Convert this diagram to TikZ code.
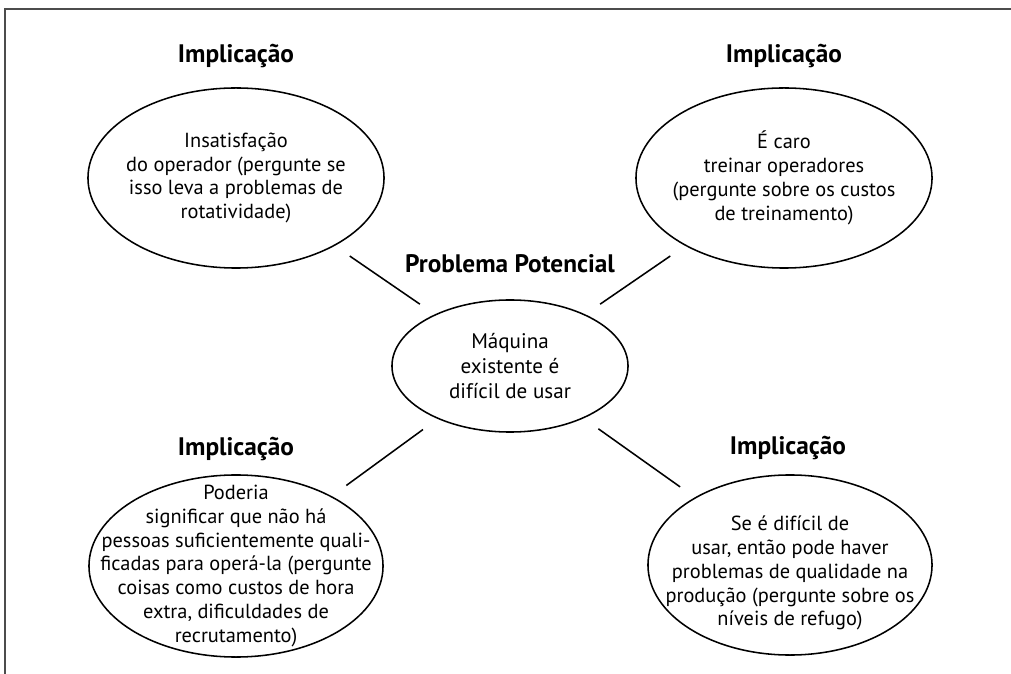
\documentclass[tikz,border=0pt]{standalone}
\usepackage{fontspec}
\setmainfont{PT Sans}
\usetikzlibrary{shapes.geometric}

\begin{document}
\begin{tikzpicture}[x=0.025cm, y=-0.025cm,
    bubble/.style={draw, ellipse, line width=1.1pt, inner sep=0pt},
    bubbletext/.style={align=center, inner sep=0pt,
      font=\fontsize{14.5}{17}\selectfont},
    heading/.style={anchor=base, inner sep=0pt,
      font=\fontsize{18}{20}\selectfont\bfseries},
    link/.style={line width=1.1pt, shorten <=0.45cm, shorten >=0.45cm}]
  \useasboundingbox (0,0) rectangle (1011,674);

  %% frame
  \draw[line width=1.4pt, black!70] (5,674) -- (5,9) -- (1011,9);

  %% the potential problem
  \node[heading] (probhead) at (510,273) {Problema Potencial};
  \node[bubble, minimum width=5.9cm, minimum height=3.3cm] (prob) at (510,366) {};
  \node[bubbletext, font=\fontsize{15}{17.8}\selectfont] (probtxt) at (prob)
    {Máquina\\existente é\\difícil de usar};

  %% the four implications
  \node[heading] (tlhead) at (236,63) {Implicação};
  \node[bubble, minimum width=7.4cm, minimum height=4.5cm] (tl) at (236,178) {};
  \node[bubbletext] (tltxt) at (tl)
    {Insatisfação\\do operador (pergunte se\\isso leva a problemas de\\rotatividade)};

  \node[heading] (trhead) at (784,63) {Implicação};
  \node[bubble, minimum width=7.4cm, minimum height=4.5cm] (tr) at (784,178) {};
  \node[bubbletext] (trtxt) at (tr)
    {É caro\\treinar operadores\\(pergunte sobre os custos\\de treinamento)};

  \node[heading] (blhead) at (236,455) {Implicação};
  \node[bubble, minimum width=7.35cm, minimum height=4.55cm] (bl) at (236,566) {};
  \node[bubbletext] (bltxt) at (bl)
    {Poderia\\significar que não há\\pessoas suficientemente quali-\\ficadas para operá-la (pergunte\\coisas como custos de hora\\extra, dificuldades de\\recrutamento)};

  \node[heading] (brhead) at (788,454) {Implicação};
  \node[bubble, minimum width=7.1cm, minimum height=4.5cm] (br) at (790,565) {};
  \node[bubbletext] (brtxt) at ([yshift=-0.2cm]br)
    {Se é difícil de\\usar, então pode haver\\problemas de qualidade na\\produção (pergunte sobre os\\níveis de refugo)};

  %% links
  \draw[link] (prob) -- (tl);
  \draw[link] (prob) -- (tr);
  \draw[link] (prob) -- (bl);
  \draw[link] (prob) -- (br);
\end{tikzpicture}
\end{document}
